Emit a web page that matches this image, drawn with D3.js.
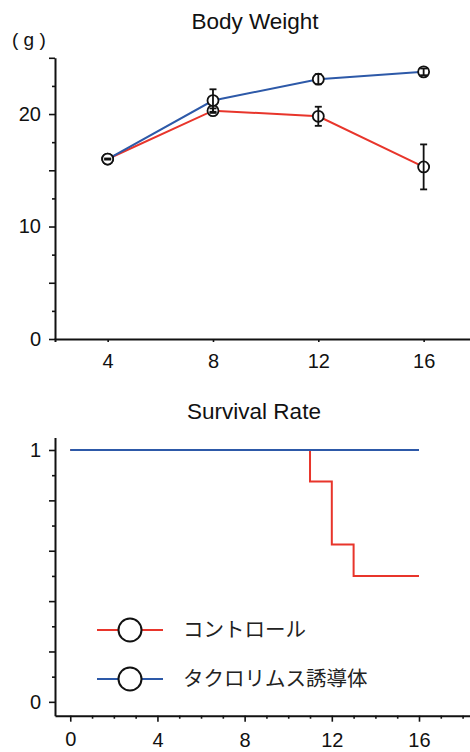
<!DOCTYPE html>
<html>
<head>
<meta charset="utf-8">
<script src="https://cdn.jsdelivr.net/npm/d3@7"></script>
<style>
    body { margin: 0; background: #fff; }
    svg { display: block; }
    text { font-family: "Liberation Sans", Arial, sans-serif; fill: #111; }
    .jp { font-family: "Noto Sans CJK JP", sans-serif; fill: #222; }
</style>
</head>
<body>
<div id="container"></div>
<script>
// Body Weight (g), weeks
const weeks = [4, 8, 12, 16];
const controlWeight = [16.0, 20.3, 19.8, 15.3];
const controlWeightErr = [0.05, 0.2, 0.85, 2.0];
const tacroWeight = [16.0, 21.2, 23.1, 23.75];
const tacroWeightErr = [0.05, 1.0, 0.45, 0.3];
const weightTicks = [0, 2.5, 5, 7.5, 10, 12.5, 15, 17.5, 20, 22.5, 25];
const weightLabels = [0, 10, 20];

// Survival Rate (step curves)
const controlSurvWeek = [0, 11, 12, 13, 16];
const controlSurvRate = [1, 0.875, 0.625, 0.5, 0.5];
const tacroSurvWeek = [0, 16];
const tacroSurvRate = [1, 1];
const survTicks = [0, 0.1, 0.2, 0.3, 0.4, 0.5, 0.6, 0.7, 0.8, 0.9, 1];
const survWeekTicks = d3.range(0, 19);
const survWeekLabels = [0, 4, 8, 12, 16];

const seriesNames = ["コントロール", "タクロリムス誘導体"];
const RED = "#e8352b";
const BLUE = "#2d59a8";

const W = 470, H = 752;
const svg = d3.select("#container").append("svg")
    .attr("width", W)
    .attr("height", H);

// ---------- 上: Body Weight ----------
const x1 = d3.scaleLinear().domain([2, 18]).range([55, 476.3]);
const y1 = d3.scaleLinear().domain([0, 25]).range([339, 57.8]);

svg.append("text")
    .attr("x", 255).attr("y", 29)
    .attr("text-anchor", "middle")
    .style("font-size", "22.5px")
    .text("Body Weight");
svg.append("text")
    .attr("x", 12).attr("y", 46)
    .style("font-size", "19px")
    .text("( g )");

const yAx1 = svg.append("g")
    .attr("transform", "translate(55,0)")
    .call(d3.axisLeft(y1).tickValues(weightTicks).tickSizeOuter(0)
        .tickFormat((d) => (weightLabels.includes(d) ? d : "")));
yAx1.selectAll(".tick line").attr("x2", (d) => (d % 5 === 0 ? -6 : -3));

const xAx1 = svg.append("g")
    .attr("transform", "translate(0,339)")
    .call(d3.axisBottom(x1).tickValues(weeks).tickSizeOuter(0).tickSize(3));

function styleAxis(g) {
    g.select(".domain").attr("stroke", "#111").attr("stroke-width", 2);
    g.selectAll(".tick line").attr("stroke", "#111").attr("stroke-width", 1.6);
    g.selectAll(".tick text").style("font-size", "20px").attr("fill", "#111");
}
[yAx1, xAx1].forEach(styleAxis);
yAx1.selectAll(".tick text").attr("x", -14);
xAx1.selectAll(".tick text").attr("dy", 0).attr("y", 29);

const wLine = d3.line()
    .x((d, i) => x1(weeks[i]))
    .y((d) => y1(d));

svg.append("path").datum(controlWeight)
    .attr("d", wLine).attr("fill", "none")
    .attr("stroke", RED).attr("stroke-width", 2);
svg.append("path").datum(tacroWeight)
    .attr("d", wLine).attr("fill", "none")
    .attr("stroke", BLUE).attr("stroke-width", 2);

// マーカーとエラーバー
function drawMarkers(means, errs) {
    const g = svg.append("g");
    weeks.forEach((w, i) => {
        const cx = x1(w), cy = y1(means[i]);
        g.append("circle")
            .attr("cx", cx).attr("cy", cy).attr("r", 5.5)
            .attr("fill", "#fff").attr("stroke", "#111").attr("stroke-width", 1.8);
        const top = y1(means[i] + errs[i]);
        const bot = y1(means[i] - errs[i]);
        g.append("line")
            .attr("x1", cx).attr("x2", cx).attr("y1", top).attr("y2", bot)
            .attr("stroke", "#111").attr("stroke-width", 1.8);
        [top, bot].forEach((yy) => {
            g.append("line")
                .attr("x1", cx - 3.5).attr("x2", cx + 3.5).attr("y1", yy).attr("y2", yy)
                .attr("stroke", "#111").attr("stroke-width", 1.8);
        });
    });
}
drawMarkers(controlWeight, controlWeightErr);
drawMarkers(tacroWeight, tacroWeightErr);

// ---------- 下: Survival Rate ----------
const x2 = d3.scaleLinear().domain([-0.7, 18.34]).range([55, 470]);
const y2 = d3.scaleLinear().domain([-0.055, 1.05]).range([715.7, 437.4]);

svg.append("text")
    .attr("x", 254).attr("y", 419)
    .attr("text-anchor", "middle")
    .style("font-size", "22.5px")
    .text("Survival Rate");

const yAx2 = svg.append("g")
    .attr("transform", "translate(55,0)")
    .call(d3.axisLeft(y2).tickValues(survTicks).tickSizeOuter(0)
        .tickFormat((d) => (d === 0 || d === 1 ? d : "")));
yAx2.selectAll(".tick line").attr("x2", (d) => (Math.round(d * 10) % 2 === 0 ? -6 : -3));

const xAx2 = svg.append("g")
    .attr("transform", "translate(0,715.7)")
    .call(d3.axisBottom(x2).tickValues(survWeekTicks).tickSizeOuter(0)
        .tickFormat((d) => (survWeekLabels.includes(d) ? d : "")));
xAx2.selectAll(".tick line").attr("y2", (d) => (d % 4 === 0 ? 6 : 3));
[yAx2, xAx2].forEach(styleAxis);
yAx2.selectAll(".tick text").attr("x", -14);
// 下端で切れないように少し上げる
xAx2.selectAll(".tick text").attr("dy", 0).attr("y", (d) => (d === 0 ? 30 : 31.5));

const sLine = d3.line()
    .curve(d3.curveStepAfter)
    .x((d) => x2(d[0]))
    .y((d) => y2(d[1]));

svg.append("path").datum(d3.zip(controlSurvWeek, controlSurvRate))
    .attr("d", sLine).attr("fill", "none")
    .attr("stroke", RED).attr("stroke-width", 2);
svg.append("path").datum(d3.zip(tacroSurvWeek, tacroSurvRate))
    .attr("d", sLine).attr("fill", "none")
    .attr("stroke", BLUE).attr("stroke-width", 2);

// 凡例
const legend = svg.append("g").selectAll("g")
    .data(seriesNames)
    .enter()
    .append("g")
    .attr("transform", (d, i) => `translate(0,${630 + i * 49})`);
legend.append("line")
    .attr("x1", 97).attr("x2", 163)
    .attr("stroke", (d, i) => (i === 0 ? RED : BLUE))
    .attr("stroke-width", 2);
legend.append("circle")
    .attr("cx", 130).attr("r", 11.5)
    .attr("fill", "#fff").attr("stroke", "#111").attr("stroke-width", 2);
legend.append("text")
    .attr("class", "jp")
    .attr("x", 183).attr("y", 0)
    .attr("dy", "0.35em")
    .style("font-size", "20.5px")
    .text((d) => d);
</script>
</body>
</html>
